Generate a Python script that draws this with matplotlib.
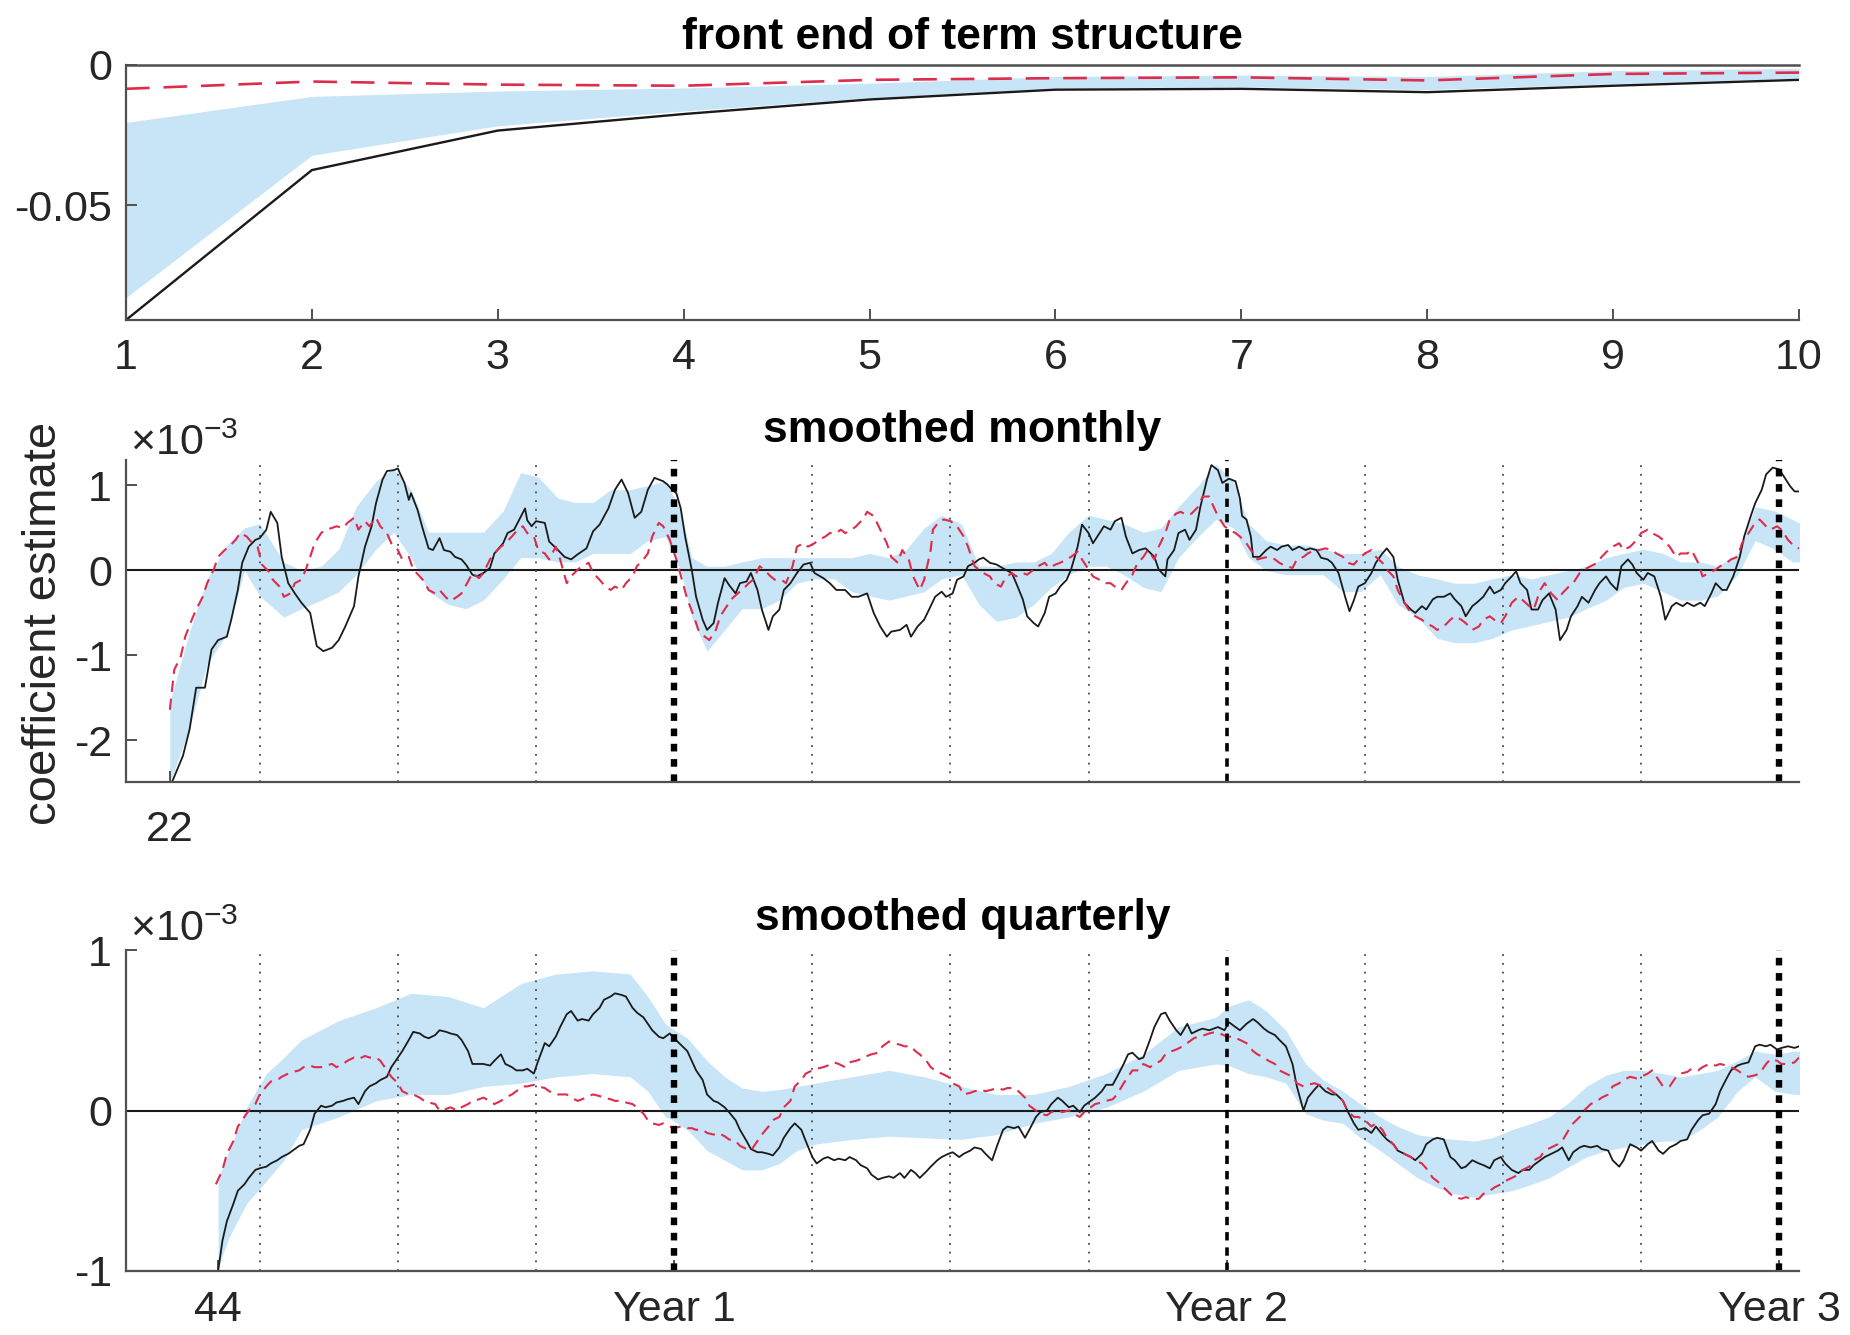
import matplotlib
matplotlib.use('Agg')
import matplotlib.pyplot as plt

plt.rcParams['font.family'] = ['Liberation Sans', 'DejaVu Sans']
plt.rcParams['mathtext.fontset'] = 'custom'
plt.rcParams['mathtext.rm'] = 'Liberation Sans'
plt.rcParams['mathtext.it'] = 'Liberation Sans'
plt.rcParams['lines.scale_dashes'] = False

# ---------------- data: front end of term structure ----------------
term_x = [1, 2, 3, 4, 5, 6, 7, 8, 9, 10]
term_black = [-0.0910, -0.0375, -0.0234, -0.0175, -0.0123, -0.0088, -0.0085, -0.0097, -0.0074, -0.0053]
term_red = [-0.0085, -0.0059, -0.0070, -0.0074, -0.0053, -0.0047, -0.0044, -0.0055, -0.0032, -0.0027]
term_band_hi = [-0.0205, -0.0112, -0.0093, -0.0082, -0.0065, -0.0041, -0.0036, -0.0041, -0.0020, -0.0012]
term_band_lo = [-0.0830, -0.0322, -0.0217, -0.0164, -0.0117, -0.0082, -0.0078, -0.0088, -0.0067, -0.0047]

# ---------------- data: smoothed monthly (units of 1e-3) ----------------
mon_black_d = [23, 28, 31, 34, 38, 41, 44, 48, 50, 53, 55, 58, 61, 63, 66, 68, 71, 73, 76, 79, 82, 86, 89, 92, 96, 99,
               102, 106, 108, 111, 114, 116, 119, 121, 124, 126, 127, 129, 131, 132, 135, 137, 140, 142, 145, 147, 150,
               152, 155, 157, 160, 162, 165, 168, 170, 174, 176, 179, 181, 184, 185, 187, 189, 193, 195, 199, 202, 205,
               208, 212, 215, 218, 222, 225, 228, 231, 234, 237, 240, 243, 247, 249, 251, 253, 255, 257, 260, 262, 265,
               267, 270, 272, 275, 277, 280, 282, 285, 287, 290, 292, 295, 297, 300, 302, 305, 308, 311, 314, 316, 320,
               323, 326, 330, 333, 336, 340, 343, 346, 349, 351, 355, 358, 360, 363, 366, 369, 371, 374, 376, 379, 381,
               384, 386, 389, 391, 393, 396, 399, 403, 406, 408, 411, 413, 416, 418, 421, 423, 426, 428, 431, 433, 436,
               438, 441, 443, 446, 448, 451, 453, 456, 458, 461, 464, 467, 471, 473, 476, 477, 480, 482, 485, 487, 490,
               492, 495, 497, 500, 502, 505, 508, 510, 511, 513, 515, 516, 519, 522, 524, 527, 529, 532, 534, 537, 540,
               542, 545, 547, 550, 552, 555, 558, 560, 562, 564, 567, 570, 572, 575, 577, 580, 582, 585, 588, 590, 593,
               595, 598, 600, 603, 606, 608, 611, 613, 616, 618, 621, 624, 626, 629, 631, 634, 636, 638, 641, 643, 646,
               648, 651, 654, 656, 659, 661, 664, 666, 669, 672, 674, 677, 679, 682, 684, 687, 689, 691, 694, 696, 699,
               702, 704, 707, 709, 712, 714, 717, 720, 722, 725, 727, 730, 732, 735, 738, 740, 743, 745, 748, 750, 753,
               756, 758, 761, 763, 765]
mon_black = [-2.49, -2.18, -1.87, -1.38, -1.38, -0.93, -0.82, -0.78, -0.58, -0.23, 0.09, 0.28, 0.36, 0.38, 0.48, 0.69,
             0.56, 0.16, -0.15, -0.27, -0.38, -0.50, -0.89, -0.95, -0.91, -0.82, -0.66, -0.42, -0.07, 0.28, 0.52, 0.79,
             1.07, 1.17, 1.18, 1.20, 1.14, 1.03, 0.83, 0.91, 0.71, 0.52, 0.26, 0.24, 0.38, 0.24, 0.22, 0.16, 0.13, 0.07,
             -0.05, -0.07, -0.03, 0.03, 0.20, 0.32, 0.44, 0.48, 0.58, 0.73, 0.59, 0.52, 0.58, 0.56, 0.34, 0.24, 0.16,
             0.13, 0.19, 0.26, 0.46, 0.54, 0.73, 0.95, 1.07, 0.91, 0.62, 0.69, 0.95, 1.09, 1.05, 1.01, 0.95, 0.91, 0.73,
             0.40, 0.01, -0.31, -0.58, -0.70, -0.62, -0.38, -0.09, -0.17, -0.27, -0.15, -0.13, -0.03, -0.23, -0.46,
             -0.70, -0.54, -0.46, -0.23, -0.15, -0.03, 0.07, 0.09, -0.03, -0.09, -0.15, -0.23, -0.23, -0.31, -0.31,
             -0.27, -0.50, -0.66, -0.78, -0.72, -0.70, -0.64, -0.78, -0.66, -0.58, -0.42, -0.31, -0.25, -0.31, -0.27,
             -0.11, -0.07, 0.05, 0.09, 0.13, 0.15, 0.09, 0.07, 0.01, -0.03, -0.15, -0.34, -0.54, -0.62, -0.66, -0.50,
             -0.31, -0.27, -0.19, -0.11, 0.01, 0.28, 0.54, 0.44, 0.32, 0.44, 0.52, 0.48, 0.58, 0.62, 0.40, 0.20, 0.24,
             0.26, 0.16, 0.01, -0.07, 0.13, 0.24, 0.44, 0.48, 0.36, 0.48, 0.75, 1.07, 1.24, 1.18, 1.03, 1.08, 1.05, 0.85,
             0.64, 0.60, 0.40, 0.16, 0.16, 0.24, 0.28, 0.24, 0.28, 0.30, 0.24, 0.28, 0.24, 0.26, 0.24, 0.15, 0.13, 0.09,
             -0.03, -0.31, -0.48, -0.35, -0.19, -0.15, -0.03, 0.09, 0.20, 0.26, 0.16, -0.11, -0.38, -0.46, -0.50, -0.42,
             -0.46, -0.34, -0.31, -0.31, -0.27, -0.34, -0.42, -0.54, -0.42, -0.38, -0.31, -0.19, -0.27, -0.23, -0.15,
             -0.07, -0.01, -0.15, -0.23, -0.46, -0.46, -0.35, -0.27, -0.46, -0.82, -0.70, -0.54, -0.42, -0.31, -0.38,
             -0.23, -0.15, -0.07, -0.15, -0.23, 0.05, 0.13, 0.07, -0.03, -0.11, -0.03, -0.07, -0.31, -0.58, -0.42,
             -0.38, -0.42, -0.38, -0.42, -0.38, -0.42, -0.27, -0.15, -0.23, -0.23, -0.07, 0.16, 0.40, 0.64, 0.79, 0.95,
             1.13, 1.21, 1.19, 1.11, 0.99, 0.93, 0.93]

mon_red_d = [22, 24, 27, 29, 32, 34, 37, 39, 42, 44, 47, 49, 52, 54, 57, 59, 62, 64, 67, 69, 72, 74, 77, 79, 82, 84, 86,
             88, 91, 93, 96, 98, 101, 103, 106, 108, 111, 113, 116, 118, 121, 123, 126, 128, 131, 133, 136, 138, 140,
             143, 145, 148, 150, 153, 155, 158, 160, 163, 165, 168, 170, 173, 175, 178, 180, 183, 185, 188, 190, 193,
             195, 198, 200, 203, 205, 208, 210, 213, 215, 218, 220, 223, 225, 228, 230, 233, 235, 238, 240, 242, 245,
             247, 250, 253, 256, 258, 261, 263, 266, 268, 271, 273, 276, 278, 281, 283, 286, 288, 291, 293, 296, 298,
             301, 303, 306, 308, 311, 313, 316, 318, 321, 323, 326, 328, 330, 333, 335, 338, 340, 343, 346, 349, 351,
             354, 356, 359, 361, 364, 366, 369, 370, 373, 375, 378, 381, 384, 386, 389, 391, 393, 396, 398, 401, 403,
             406, 408, 411, 413, 416, 418, 421, 423, 426, 428, 431, 433, 436, 438, 441, 443, 446, 448, 451, 453, 456,
             458, 461, 463, 466, 468, 471, 473, 476, 478, 481, 483, 486, 488, 491, 493, 496, 498, 500, 503, 505, 508,
             510, 513, 516, 518, 521, 523, 526, 528, 531, 534, 536, 539, 541, 544, 546, 549, 552, 554, 557, 559, 562,
             564, 567, 570, 572, 575, 577, 580, 582, 585, 588, 590, 593, 595, 598, 600, 603, 606, 608, 611, 613, 616,
             619, 621, 624, 626, 629, 631, 634, 637, 639, 642, 644, 647, 649, 652, 655, 657, 660, 662, 665, 667, 670,
             673, 675, 678, 680, 683, 685, 688, 691, 693, 696, 698, 701, 703, 706, 709, 711, 714, 716, 719, 721, 724,
             727, 729, 732, 734, 737, 739, 742, 745, 747, 750, 752, 755, 757, 760, 763, 765]
mon_red = [-1.64, -1.17, -1.01, -0.78, -0.58, -0.46, -0.31, -0.15, 0.01, 0.16, 0.24, 0.28, 0.36, 0.44, 0.40, 0.34, 0.28,
           0.07, -0.01, -0.11, -0.19, -0.31, -0.27, -0.15, -0.11, 0.01, 0.16, 0.32, 0.44, 0.48, 0.50, 0.52, 0.50, 0.56,
           0.62, 0.48, 0.58, 0.52, 0.62, 0.52, 0.44, 0.32, 0.24, 0.13, 0.16, 0.01, -0.07, -0.13, -0.23, -0.27, -0.23,
           -0.32, -0.36, -0.31, -0.27, -0.13, -0.03, -0.09, -0.03, 0.13, 0.20, 0.28, 0.32, 0.40, 0.46, 0.52, 0.44,
           0.40, 0.24, 0.20, 0.13, 0.28, 0.13, -0.15, -0.07, 0.01, 0.05, 0.09, -0.03, -0.11, -0.17, -0.23, -0.19,
           -0.23, -0.15, -0.07, 0.05, 0.13, 0.20, 0.40, 0.56, 0.52, 0.36, 0.13, -0.15, -0.34, -0.54, -0.70, -0.78,
           -0.82, -0.70, -0.54, -0.42, -0.34, -0.27, -0.23, -0.15, -0.11, 0.05, 0.01, -0.07, -0.11, -0.11, -0.15,
           0.05, 0.28, 0.32, 0.28, 0.32, 0.36, 0.40, 0.44, 0.44, 0.48, 0.44, 0.48, 0.52, 0.60, 0.69, 0.64, 0.48, 0.32,
           0.16, 0.09, 0.24, 0.13, -0.07, -0.23, -0.11, 0.24, 0.48, 0.58, 0.60, 0.58, 0.52, 0.40, 0.28, 0.05, 0.01,
           -0.03, -0.07, -0.15, -0.19, -0.09, -0.03, -0.07, -0.03, -0.05, 0.01, 0.05, 0.09, 0.03, 0.07, 0.09, 0.13,
           0.16, 0.22, 0.13, 0.01, -0.07, -0.11, -0.15, -0.15, -0.19, -0.23, -0.15, -0.05, 0.07, 0.16, 0.24, 0.13,
           0.28, 0.44, 0.60, 0.67, 0.69, 0.65, 0.67, 0.75, 0.87, 0.87, 0.75, 0.64, 0.52, 0.48, 0.44, 0.40, 0.32, 0.20,
           0.13, 0.15, 0.16, 0.13, 0.09, 0.05, 0.03, 0.13, 0.16, 0.20, 0.24, 0.24, 0.26, 0.24, 0.20, 0.16, 0.09, 0.07,
           0.13, 0.20, 0.24, 0.16, 0.09, 0.01, -0.07, -0.23, -0.38, -0.50, -0.54, -0.58, -0.62, -0.66, -0.70, -0.66,
           -0.58, -0.54, -0.58, -0.62, -0.70, -0.66, -0.58, -0.54, -0.58, -0.62, -0.54, -0.38, -0.31, -0.35, -0.42,
           -0.46, -0.23, -0.15, -0.27, -0.35, -0.27, -0.19, -0.15, -0.03, 0.01, 0.05, 0.09, 0.16, 0.24, 0.28, 0.32,
           0.24, 0.28, 0.36, 0.44, 0.48, 0.44, 0.40, 0.36, 0.28, 0.16, 0.20, 0.20, 0.24, 0.09, -0.07, -0.03, 0.01,
           0.05, 0.09, 0.13, 0.16, 0.32, 0.44, 0.56, 0.60, 0.52, 0.48, 0.52, 0.48, 0.36, 0.28, 0.26]

mon_band_d = [22, 31, 39, 48, 56, 63, 74, 82, 91, 99, 107, 116, 124, 132, 140, 149, 157, 165, 174, 182, 190, 199, 207,
              215, 223, 232, 240, 248, 255, 260, 267, 275, 283, 292, 300, 308, 316, 325, 333, 341, 350, 358, 366, 374,
              383, 391, 399, 408, 416, 424, 432, 441, 449, 457, 466, 474, 482, 491, 499, 507, 514, 522, 531, 540, 548,
              557, 565, 574, 582, 591, 600, 608, 617, 625, 634, 643, 651, 660, 668, 677, 685, 694, 703, 711, 720, 728,
              737, 745, 754, 762, 766]
mon_band_hi = [-1.55, -0.72, -0.10, 0.30, 0.50, 0.55, 0.10, 0.00, 0.05, 0.25, 0.75, 1.05, 1.20, 0.95, 0.45, 0.45, 0.45,
               0.45, 0.70, 1.15, 1.10, 0.85, 0.80, 0.80, 0.95, 0.95, 1.00, 1.05, 0.70, 0.15, 0.05, 0.05, 0.10, 0.15,
               0.15, 0.15, 0.15, 0.15, 0.15, 0.20, 0.15, 0.25, 0.50, 0.65, 0.55, 0.05, 0.05, 0.10, 0.10, 0.20, 0.45,
               0.65, 0.60, 0.55, 0.45, 0.50, 0.75, 1.00, 1.25, 1.05, 0.55, 0.35, 0.30, 0.30, 0.25, 0.20, 0.20, 0.25,
               0.05, -0.05, -0.10, -0.15, -0.15, -0.10, -0.05, -0.10, -0.05, 0.00, 0.05, 0.15, 0.20, 0.25, 0.20, 0.10,
               0.10, 0.05, 0.20, 0.75, 0.70, 0.60, 0.55]
mon_band_lo = [-2.50, -1.85, -1.10, -0.75, 0.00, -0.30, -0.55, -0.45, -0.35, -0.25, -0.05, 0.25, 0.45, 0.15, -0.25,
               -0.40, -0.45, -0.35, -0.10, 0.15, 0.15, 0.10, 0.10, 0.20, 0.20, 0.20, 0.35, 0.40, 0.00, -0.55, -0.95,
               -0.70, -0.45, -0.45, -0.35, -0.15, -0.10, -0.10, -0.25, -0.30, -0.35, -0.30, -0.25, -0.10, -0.05, -0.40,
               -0.60, -0.55, -0.40, -0.20, -0.05, 0.05, 0.05, -0.05, -0.20, -0.25, 0.15, 0.40, 0.60, 0.50, 0.15, 0.00,
               -0.05, -0.05, -0.05, -0.25, -0.25, -0.05, -0.40, -0.55, -0.80, -0.85, -0.85, -0.80, -0.70, -0.65, -0.60,
               -0.55, -0.45, -0.35, -0.20, -0.15, -0.25, -0.35, -0.35, -0.30, -0.05, 0.35, 0.25, 0.10, 0.10]

# ---------------- data: smoothed quarterly (units of 1e-3) ----------------
qtr_black_d = [44, 46, 48, 51, 53, 56, 58, 61, 63, 66, 68, 71, 73, 76, 78, 81, 83, 86, 88, 91, 93, 96, 98, 101, 103, 106,
               108, 111, 113, 116, 118, 121, 123, 126, 128, 131, 133, 136, 138, 140, 143, 145, 148, 150, 153, 155, 158,
               160, 163, 165, 168, 170, 173, 175, 178, 180, 183, 185, 188, 190, 193, 195, 198, 200, 203, 205, 208, 210,
               213, 215, 218, 220, 223, 225, 228, 230, 233, 235, 238, 240, 242, 245, 247, 250, 252, 255, 258, 260, 262,
               265, 267, 270, 272, 275, 277, 280, 282, 285, 287, 290, 292, 295, 297, 300, 302, 305, 307, 310, 312, 315,
               317, 320, 322, 325, 327, 330, 332, 335, 337, 340, 342, 345, 347, 350, 352, 355, 357, 360, 362, 364, 367,
               369, 372, 374, 377, 379, 382, 384, 387, 389, 392, 394, 397, 399, 402, 404, 407, 409, 412, 414, 417, 419,
               422, 424, 427, 429, 432, 434, 437, 439, 442, 444, 447, 449, 452, 454, 457, 459, 461, 464, 466, 469, 471,
               474, 476, 478, 481, 483, 486, 488, 491, 493, 496, 498, 500, 503, 505, 508, 510, 513, 516, 518, 521, 523,
               526, 528, 531, 534, 536, 539, 541, 544, 546, 549, 552, 554, 557, 559, 562, 564, 567, 570, 572, 575, 577,
               580, 582, 585, 588, 590, 593, 595, 598, 600, 603, 606, 608, 611, 613, 616, 619, 621, 624, 626, 629, 631,
               634, 637, 639, 642, 644, 647, 649, 652, 655, 657, 660, 662, 665, 667, 670, 673, 675, 678, 680, 683, 685,
               688, 691, 693, 696, 698, 701, 703, 706, 709, 711, 714, 716, 719, 721, 724, 727, 729, 732, 734, 737, 739,
               742, 745, 747, 750, 752, 755, 757, 760, 763, 765]
qtr_black = [-1.00, -0.81, -0.69, -0.58, -0.50, -0.46, -0.42, -0.37, -0.36, -0.35, -0.33, -0.31, -0.29, -0.27, -0.25,
             -0.22, -0.21, -0.12, -0.02, 0.03, 0.02, 0.03, 0.05, 0.06, 0.07, 0.08, 0.04, 0.12, 0.15, 0.17, 0.19, 0.21,
             0.27, 0.33, 0.37, 0.44, 0.49, 0.48, 0.46, 0.45, 0.47, 0.50, 0.49, 0.48, 0.47, 0.44, 0.37, 0.29, 0.29, 0.29,
             0.28, 0.31, 0.35, 0.29, 0.27, 0.25, 0.25, 0.26, 0.23, 0.31, 0.42, 0.40, 0.46, 0.52, 0.60, 0.62, 0.56, 0.57,
             0.56, 0.60, 0.64, 0.69, 0.71, 0.73, 0.72, 0.71, 0.64, 0.61, 0.58, 0.54, 0.50, 0.46, 0.45, 0.48, 0.45, 0.41,
             0.37, 0.31, 0.25, 0.19, 0.10, 0.06, 0.05, 0.02, -0.01, -0.06, -0.12, -0.19, -0.24, -0.26, -0.26, -0.27,
             -0.28, -0.23, -0.17, -0.11, -0.08, -0.12, -0.19, -0.29, -0.33, -0.30, -0.29, -0.31, -0.30, -0.31, -0.29,
             -0.31, -0.34, -0.36, -0.40, -0.43, -0.42, -0.41, -0.42, -0.39, -0.42, -0.37, -0.39, -0.42, -0.38, -0.35,
             -0.31, -0.29, -0.27, -0.26, -0.29, -0.27, -0.25, -0.23, -0.24, -0.27, -0.31, -0.23, -0.12, -0.10, -0.11,
             -0.10, -0.17, -0.12, -0.04, -0.01, 0.00, 0.04, 0.08, 0.06, 0.02, 0.03, -0.01, 0.03, 0.06, 0.08, 0.12, 0.16,
             0.16, 0.21, 0.29, 0.35, 0.36, 0.32, 0.33, 0.44, 0.52, 0.60, 0.61, 0.56, 0.50, 0.47, 0.54, 0.48, 0.50, 0.51,
             0.50, 0.51, 0.52, 0.50, 0.55, 0.52, 0.50, 0.54, 0.57, 0.55, 0.51, 0.49, 0.47, 0.44, 0.40, 0.29, 0.15, 0.00,
             0.08, 0.13, 0.16, 0.12, 0.10, 0.10, 0.06, 0.00, -0.08, -0.12, -0.11, -0.14, -0.10, -0.15, -0.18, -0.21,
             -0.25, -0.27, -0.29, -0.31, -0.27, -0.21, -0.18, -0.17, -0.18, -0.29, -0.31, -0.36, -0.35, -0.31, -0.33,
             -0.34, -0.36, -0.31, -0.29, -0.33, -0.37, -0.39, -0.37, -0.37, -0.34, -0.31, -0.29, -0.27, -0.25, -0.23,
             -0.31, -0.26, -0.23, -0.22, -0.23, -0.22, -0.24, -0.25, -0.31, -0.35, -0.31, -0.21, -0.23, -0.25, -0.21,
             -0.19, -0.25, -0.27, -0.23, -0.21, -0.19, -0.18, -0.12, -0.06, -0.03, -0.02, 0.04, 0.12, 0.20, 0.25, 0.28,
             0.29, 0.30, 0.40, 0.41, 0.40, 0.41, 0.38, 0.39, 0.40, 0.39, 0.40]

qtr_red_d = [43, 46, 48, 51, 53, 56, 58, 61, 63, 66, 68, 71, 73, 76, 78, 81, 83, 86, 88, 91, 93, 96, 98, 101, 103, 106,
             108, 111, 113, 116, 118, 121, 123, 126, 128, 131, 133, 136, 138, 140, 143, 145, 148, 150, 153, 155, 158,
             160, 163, 165, 168, 170, 173, 175, 178, 180, 183, 185, 188, 190, 193, 195, 198, 200, 203, 205, 208, 210,
             213, 215, 218, 220, 223, 225, 228, 230, 233, 235, 238, 240, 242, 245, 247, 250, 252, 255, 258, 260, 262,
             265, 267, 270, 272, 275, 277, 280, 282, 285, 287, 290, 292, 295, 297, 300, 302, 305, 307, 310, 312, 315,
             317, 320, 322, 325, 327, 330, 332, 335, 337, 340, 342, 345, 347, 350, 352, 355, 357, 360, 362, 364, 367,
             369, 372, 374, 377, 379, 382, 384, 387, 389, 392, 394, 397, 399, 402, 404, 407, 409, 412, 414, 417, 419,
             422, 424, 427, 429, 432, 434, 437, 439, 442, 444, 447, 449, 452, 454, 457, 459, 461, 464, 466, 469, 471,
             474, 476, 479, 481, 484, 486, 489, 491, 494, 496, 499, 501, 504, 507, 510, 513, 516, 518, 521, 523, 526,
             528, 531, 534, 536, 539, 541, 544, 546, 549, 552, 554, 557, 559, 562, 564, 567, 570, 572, 575, 577, 580,
             582, 585, 588, 590, 593, 595, 598, 600, 603, 606, 608, 611, 613, 616, 619, 621, 624, 626, 629, 631, 634,
             637, 639, 642, 644, 647, 649, 652, 655, 657, 660, 662, 665, 667, 670, 673, 675, 678, 680, 683, 685, 688,
             691, 693, 696, 698, 701, 703, 706, 709, 711, 714, 716, 719, 721, 724, 727, 729, 732, 734, 737, 739, 742,
             745, 747, 750, 752, 755, 757, 760, 763, 765]
qtr_red = [-0.46, -0.37, -0.27, -0.19, -0.10, -0.04, 0.00, 0.04, 0.10, 0.15, 0.18, 0.19, 0.21, 0.23, 0.24, 0.25, 0.27,
           0.28, 0.27, 0.27, 0.28, 0.29, 0.27, 0.29, 0.31, 0.33, 0.32, 0.34, 0.33, 0.33, 0.31, 0.25, 0.21, 0.17, 0.12,
           0.10, 0.10, 0.08, 0.06, 0.05, 0.04, 0.00, 0.01, 0.02, 0.00, 0.02, 0.04, 0.06, 0.07, 0.08, 0.06, 0.04, 0.06,
           0.08, 0.10, 0.12, 0.15, 0.15, 0.16, 0.15, 0.14, 0.12, 0.10, 0.10, 0.10, 0.08, 0.06, 0.07, 0.09, 0.10, 0.09,
           0.08, 0.07, 0.06, 0.06, 0.05, 0.04, 0.02, -0.02, -0.06, -0.08, -0.09, -0.08, -0.10, -0.11, -0.10, -0.11,
           -0.11, -0.12, -0.12, -0.14, -0.15, -0.14, -0.16, -0.18, -0.19, -0.22, -0.24, -0.25, -0.19, -0.15, -0.10,
           -0.06, -0.04, 0.02, 0.06, 0.15, 0.19, 0.23, 0.25, 0.26, 0.27, 0.28, 0.30, 0.29, 0.27, 0.30, 0.31, 0.32,
           0.34, 0.35, 0.36, 0.40, 0.43, 0.42, 0.41, 0.40, 0.40, 0.37, 0.35, 0.31, 0.27, 0.24, 0.23, 0.21, 0.17, 0.15,
           0.10, 0.11, 0.12, 0.13, 0.12, 0.13, 0.14, 0.13, 0.14, 0.14, 0.12, 0.08, 0.03, 0.00, -0.02, -0.03, -0.01,
           0.00, -0.01, 0.00, -0.02, -0.04, -0.01, 0.02, 0.04, 0.05, 0.06, 0.07, 0.10, 0.17, 0.21, 0.25, 0.25, 0.29,
           0.27, 0.29, 0.31, 0.35, 0.37, 0.38, 0.40, 0.42, 0.45, 0.46, 0.47, 0.48, 0.49, 0.48, 0.46, 0.46, 0.44, 0.42,
           0.37, 0.35, 0.33, 0.31, 0.29, 0.25, 0.23, 0.21, 0.17, 0.15, 0.16, 0.17, 0.16, 0.15, 0.12, 0.10, 0.06, 0.00,
           -0.04, -0.04, -0.06, -0.10, -0.08, -0.12, -0.17, -0.21, -0.25, -0.27, -0.29, -0.31, -0.33, -0.36, -0.42,
           -0.44, -0.48, -0.52, -0.54, -0.55, -0.54, -0.55, -0.55, -0.52, -0.50, -0.48, -0.46, -0.44, -0.42, -0.40,
           -0.37, -0.35, -0.31, -0.29, -0.25, -0.23, -0.21, -0.19, -0.12, -0.08, -0.04, 0.00, 0.04, 0.06, 0.08, 0.10,
           0.15, 0.17, 0.19, 0.21, 0.20, 0.21, 0.23, 0.25, 0.19, 0.15, 0.15, 0.21, 0.23, 0.24, 0.26, 0.25, 0.27, 0.29,
           0.28, 0.29, 0.28, 0.27, 0.25, 0.23, 0.21, 0.22, 0.23, 0.29, 0.32, 0.31, 0.29, 0.29, 0.30, 0.33]

qtr_band_d = [44, 49, 57, 66, 74, 82, 99, 116, 132, 149, 165, 182, 198, 215, 232, 240, 248, 250, 258, 267, 275, 283,
              292, 300, 308, 316, 333, 350, 366, 383, 399, 416, 432, 449, 466, 482, 499, 505, 514, 522, 531, 540, 548,
              557, 565, 574, 582, 591, 600, 608, 617, 625, 634, 643, 651, 660, 668, 677, 685, 694, 703, 711, 720, 728,
              737, 745, 754, 763, 766]
qtr_band_hi = [-0.42, -0.25, 0.02, 0.23, 0.33, 0.44, 0.56, 0.64, 0.73, 0.71, 0.64, 0.79, 0.85, 0.87, 0.85, 0.71, 0.54,
               0.52, 0.45, 0.31, 0.21, 0.14, 0.12, 0.13, 0.15, 0.17, 0.21, 0.25, 0.21, 0.15, 0.10, 0.10, 0.15, 0.23,
               0.35, 0.52, 0.58, 0.65, 0.69, 0.62, 0.50, 0.29, 0.19, 0.12, 0.04, -0.04, -0.10, -0.15, -0.17, -0.18,
               -0.19, -0.17, -0.12, -0.08, -0.04, 0.05, 0.15, 0.22, 0.25, 0.25, 0.23, 0.21, 0.23, 0.25, 0.31, 0.37,
               0.35, 0.37, 0.37]
qtr_band_lo = [-0.98, -0.79, -0.58, -0.44, -0.31, -0.12, -0.04, 0.06, 0.10, 0.10, 0.15, 0.17, 0.21, 0.23, 0.21, 0.12,
               -0.04, -0.05, -0.12, -0.25, -0.31, -0.37, -0.37, -0.33, -0.25, -0.21, -0.18, -0.16, -0.17, -0.18, -0.15,
               -0.08, -0.04, 0.02, 0.12, 0.25, 0.29, 0.28, 0.23, 0.21, 0.17, -0.02, -0.06, -0.08, -0.17, -0.25, -0.33,
               -0.42, -0.48, -0.52, -0.54, -0.52, -0.50, -0.46, -0.42, -0.35, -0.29, -0.25, -0.23, -0.21, -0.19, -0.19,
               -0.12, -0.04, 0.12, 0.21, 0.12, 0.10, 0.10]

quarter_lines = [63, 126, 189, 315, 378, 441, 567, 630, 693]
year_lines = [252, 504, 756]
year_labels = ['Year 1', 'Year 2', 'Year 3']

# ---------------- styling ----------------
W, H = 1850, 1335
BAND = '#c7e5f6'
RED = '#dd2c4c'
BLACK = '#1a1a1a'
AXC = '#505050'
TXT = '#262626'
TICK_FS = 31

fig = plt.figure(figsize=(W / 100, H / 100), dpi=100)
L, R = 126, 1799


def add_ax(top, bottom):
    return fig.add_axes([L / W, 1 - bottom / H, (R - L) / W, (bottom - top) / H])


ax1 = add_ax(65, 320)
ax2 = add_ax(460, 782)
ax3 = add_ax(950, 1271)


def style(ax, xpad):
    for s in ['top', 'right']:
        ax.spines[s].set_visible(False)
    for s in ['left', 'bottom']:
        ax.spines[s].set_color(AXC)
        ax.spines[s].set_linewidth(1.6)
        ax.spines[s].set_zorder(7)
    ax.tick_params(direction='in', length=8, width=1.4, color=AXC,
                   labelsize=TICK_FS, labelcolor=TXT)
    ax.tick_params(axis='x', pad=xpad)
    ax.tick_params(axis='y', pad=10)


# top panel
style(ax1, 13)
ax1.fill_between(term_x, term_band_lo, term_band_hi, color=BAND, lw=0, zorder=1)
ax1.plot(term_x, term_red, color=RED, lw=1.9, linestyle=(0, (17, 10)), zorder=4)
ax1.plot(term_x, term_black, color=BLACK, lw=1.7, zorder=3)
ax1.axhline(0, color=AXC, lw=1.8, clip_on=False, zorder=6)
ax1.set_xlim(1, 10)
ax1.set_ylim(-0.091, 0)
ax1.set_xticks(term_x)
ax1.set_xticklabels([str(v) for v in term_x])
ax1.set_yticks([-0.05, 0])
ax1.set_yticklabels(['-0.05', '0'])


def series_panel(ax, bd, bhi, blo, kd, kv, rd, rv, ylim, yt, xpad):
    style(ax, xpad)
    ax.fill_between(bd, blo, bhi, color=BAND, lw=0, zorder=1)
    ax.axhline(0, color=BLACK, lw=1.5, zorder=2)
    for q in quarter_lines:
        ax.axvline(q, color='#555555', lw=1.4, linestyle=(0, (1.3, 5.0)), zorder=3)
    ax.plot(kd, kv, color=BLACK, lw=1.3, zorder=4)
    ax.plot(rd, rv, color=RED, lw=1.5, linestyle=(0, (8, 5)), zorder=5)
    ax.axvline(year_lines[0], color='black', lw=4.6, linestyle=(0, (5.5, 5.5)), zorder=6)
    ax.axvline(year_lines[1], color='black', lw=2.6, linestyle=(0, (6, 5)), zorder=6)
    ax.axvline(year_lines[2], color='black', lw=4.6, linestyle=(0, (5.5, 5.5)), zorder=6)
    ax.set_xlim(2, 765)
    ax.set_ylim(*ylim)
    ax.set_yticks(yt)
    ax.set_yticklabels([str(v) for v in yt])


series_panel(ax2, mon_band_d, mon_band_hi, mon_band_lo, mon_black_d, mon_black,
             mon_red_d, mon_red, (-2.49, 1.30), [-2, -1, 0, 1], 20)
ax2.set_xticks([22])
ax2.set_xticklabels(['22'])

series_panel(ax3, qtr_band_d, qtr_band_hi, qtr_band_lo, qtr_black_d, qtr_black,
             qtr_red_d, qtr_red, (-1.0, 1.0), [-1, 0, 1], 14)
ax3.set_xticks([44] + year_lines)
ax3.set_xticklabels(['44'] + year_labels)

# titles
cx = (L + R) / 2 / W
fig.text(cx, 1 - 49 / H, 'front end of term structure', ha='center', va='baseline',
         fontsize=32, fontweight='bold', color='black')
fig.text(cx, 1 - 442 / H, 'smoothed monthly', ha='center', va='baseline',
         fontsize=32, fontweight='bold', color='black')
fig.text(cx, 1 - 930 / H, 'smoothed quarterly', ha='center', va='baseline',
         fontsize=32, fontweight='bold', color='black')

# exponent labels
fig.text(130 / W, 1 - 455 / H, r'$\times10^{\mathrm{-}3}$', ha='left', va='baseline', fontsize=31, color=TXT)
fig.text(130 / W, 1 - 941 / H, r'$\times10^{\mathrm{-}3}$', ha='left', va='baseline', fontsize=31, color=TXT)

# y label
fig.text(44 / W, 1 - 623 / H, 'coefficient estimate', rotation=90, ha='center', va='center',
         fontsize=34, color=TXT)

fig.savefig('out.png', dpi=100, facecolor='white')
